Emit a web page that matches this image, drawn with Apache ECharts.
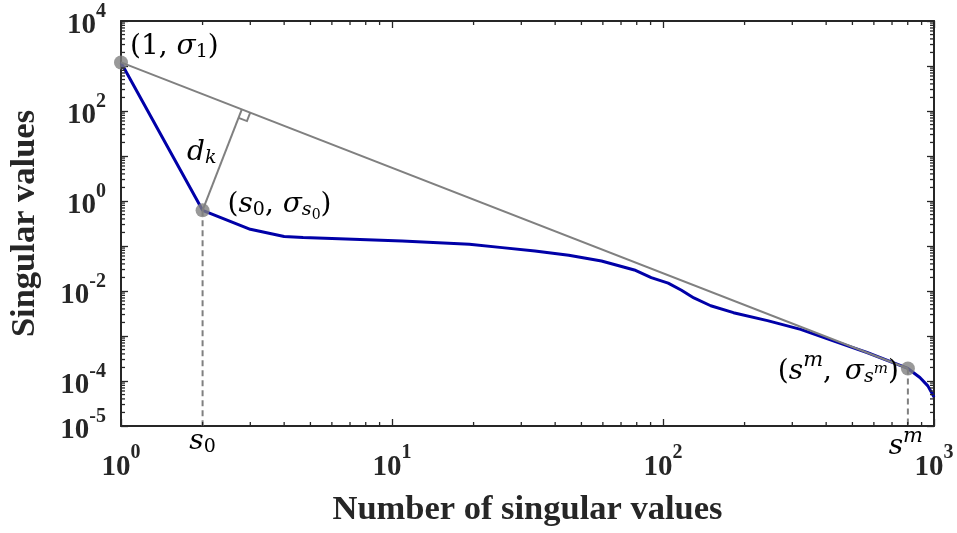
<!DOCTYPE html>
<html>
<head>
<meta charset="utf-8">
<script src="https://cdn.jsdelivr.net/npm/echarts@6/dist/echarts.min.js"></script>
<style>
  html, body { margin: 0; padding: 0; background: #ffffff; }
  #chart { width: 957px; height: 533px; }
</style>
</head>
<body>
<div id="chart"></div>
<script>
// Singular value spectrum (index k, sigma_k)
const svIndex = [1, 2, 3, 4, 4.7, 6, 10.9, 19.3, 25.5, 33.7, 44.9, 59.3, 78.4, 90.5, 104.5, 117, 130, 150, 182, 243, 322, 425, 566, 801, 887, 949, 1000];
const svValue = [1200, 0.62, 0.235, 0.162, 0.154, 0.146, 0.129, 0.109, 0.092, 0.0776, 0.062, 0.0464, 0.0293, 0.0199, 0.0150, 0.0104, 0.0070, 0.0047, 0.0033, 0.0022, 0.0014, 7.8e-4, 4.3e-4, 1.9e-4, 1.2e-4, 7.8e-5, 4.4e-5];

// Highlighted points: first value, knee s0 and the tail point s^m
const firstPoint = [svIndex[0], svValue[0]];
const kneePoint = [svIndex[1], svValue[1]];
const tailPoint = [svIndex[23], svValue[23]];

// Axis ranges and labelled exponents
const xRange = [1, 1000];
const yRange = [1e-5, 1e4];
const xLabelExps = [0, 1, 2, 3];
const yLabelExps = [-5, -4, -2, 0, 2, 4];

(function () {
const AXIS_FONT = '"Liberation Serif", "Times New Roman", serif';
const MATH_FONT = '"DejaVu Serif", "Liberation Serif", serif';
const INK = '#262626';
const GRAY = '#808080';
const BLUE = '#0000a8';

// Power-of-ten tick labels: base and raised exponent, both top-aligned; padding lowers the base
const powRich = {
  b: { fontFamily: AXIS_FONT, fontWeight: 'bold', fontSize: 29, color: INK, verticalAlign: 'top', padding: [10, 0, 0, 0] },
  e: { fontFamily: AXIS_FONT, fontWeight: 'bold', fontSize: 20, color: INK, verticalAlign: 'top', padding: [0, 0, 0, 0] }
};
function powLabel(shown) {
  return function (v) {
    const e = Math.round(Math.log10(v));
    if (shown.indexOf(e) < 0) return '';
    return '{b|10}{e|' + e + '}';
  };
}

// Math-style annotation text: tokens are top-aligned, top padding sets each token's height
function tok(size, pad, italic, padLeft) {
  return { fontFamily: MATH_FONT, color: GRAY, verticalAlign: 'top', fontSize: size,
           fontStyle: italic ? 'italic' : 'normal', padding: [pad, 0, 0, padLeft || 0] };
}
const mathRich = {
  t:    tok(28, 8, false),
  v:    tok(28, 8, true),
  vs:   tok(28, 8, true, 4),
  sub:  tok(19, 18, false),
  subv: tok(19, 18, true),
  sup:  tok(21, 1, true),
  ss:   tok(14, 26, false),
  sp:   tok(15, 12, true)
};
const MAIN_CENTER = 8 + 14;

const chart = echarts.init(document.getElementById('chart'), null, { renderer: 'canvas' });

const axisCommon = {
  type: 'log',
  logBase: 10,
  splitLine: { show: false },
  axisLine: { show: true, onZero: false, lineStyle: { color: INK, width: 2 } },
  axisTick: { show: true, inside: true, length: 7, lineStyle: { color: INK, width: 1.3 } }
};

const option = {
  animation: false,
  backgroundColor: '#ffffff',
  grid: { left: 117, right: 23, top: 21, bottom: 106, containLabel: false },
  xAxis: [
    Object.assign({}, axisCommon, {
      min: xRange[0], max: xRange[1], interval: 1, splitNumber: 3, position: 'bottom',
      axisLabel: { formatter: powLabel(xLabelExps), rich: powRich, margin: 17, fontSize: 29 },
      name: 'Number of singular values',
      nameLocation: 'middle',
      nameGap: 67,
      nameTextStyle: { fontFamily: AXIS_FONT, fontWeight: 'bold', fontSize: 34.5, color: INK }
    }),
    Object.assign({}, axisCommon, {
      min: xRange[0], max: xRange[1], interval: 1, splitNumber: 3, position: 'top',
      axisLabel: { show: false }
    })
  ],
  yAxis: [
    Object.assign({}, axisCommon, {
      min: yRange[0], max: yRange[1], interval: 1, splitNumber: 9, position: 'left',
      axisLabel: { formatter: powLabel(yLabelExps), rich: powRich, margin: 15, fontSize: 29 },
      name: 'Singular values',
      nameLocation: 'middle',
      nameGap: 78,
      nameTextStyle: { fontFamily: AXIS_FONT, fontWeight: 'bold', fontSize: 34.5, color: INK }
    }),
    Object.assign({}, axisCommon, {
      min: yRange[0], max: yRange[1], interval: 1, splitNumber: 9, position: 'right',
      axisLabel: { show: false }
    })
  ],
  series: [
    {
      name: 'spectrum',
      type: 'line',
      data: svIndex.map(function (k, i) { return [k, svValue[i]]; }),
      showSymbol: false,
      lineStyle: { color: BLUE, width: 3 },
      z: 2
    },
    {
      name: 'chord',
      type: 'line',
      data: [firstPoint, tailPoint],
      showSymbol: false,
      lineStyle: { color: GRAY, width: 2 },
      z: 3
    },
    {
      name: 'knee drop',
      type: 'line',
      data: [kneePoint, [kneePoint[0], yRange[0]]],
      showSymbol: false,
      lineStyle: { color: GRAY, width: 2, type: [6, 4] },
      z: 3
    },
    {
      name: 'tail drop',
      type: 'line',
      data: [tailPoint, [tailPoint[0], yRange[0]]],
      showSymbol: false,
      lineStyle: { color: GRAY, width: 2, type: [6, 4] },
      z: 3
    },
    {
      name: 'marked points',
      type: 'scatter',
      data: [firstPoint, kneePoint, tailPoint],
      symbol: 'circle',
      symbolSize: 14,
      itemStyle: { color: GRAY },
      z: 5
    }
  ]
};
chart.setOption(option);

// Annotations and minor ticks placed through the chart's own coordinate system
function toPx(x, y) { return chart.convertToPixel({ gridIndex: 0 }, [x, y]); }

const graphics = [];
const c0 = toPx(xRange[0], yRange[0]);
const c1 = toPx(xRange[1], yRange[1]);
const gLeft = c0[0], gBottom = c0[1], gRight = c1[0], gTop = c1[1];
const minorLen = 4;
const tickStyle = { stroke: INK, lineWidth: 1.3 };

// minor ticks on x (bottom and top)
for (let d = 0; d < 3; d++) {
  for (let k = 2; k <= 9; k++) {
    const xp = toPx(k * Math.pow(10, d), yRange[0])[0];
    graphics.push({ type: 'line', silent: true, z: 10, shape: { x1: xp, y1: gBottom, x2: xp, y2: gBottom - minorLen }, style: tickStyle });
    graphics.push({ type: 'line', silent: true, z: 10, shape: { x1: xp, y1: gTop, x2: xp, y2: gTop + minorLen }, style: tickStyle });
  }
}
// minor ticks on y (left and right)
for (let e = -5; e < 4; e++) {
  for (let k = 2; k <= 9; k++) {
    const yp = toPx(xRange[0], k * Math.pow(10, e))[1];
    graphics.push({ type: 'line', silent: true, z: 10, shape: { x1: gLeft, y1: yp, x2: gLeft + minorLen, y2: yp }, style: tickStyle });
    graphics.push({ type: 'line', silent: true, z: 10, shape: { x1: gRight, y1: yp, x2: gRight - minorLen, y2: yp }, style: tickStyle });
  }
}

// perpendicular distance d_k from the knee to the chord
const A = toPx(firstPoint[0], firstPoint[1]);
const B = toPx(tailPoint[0], tailPoint[1]);
const P = toPx(kneePoint[0], kneePoint[1]);
const len = Math.hypot(B[0] - A[0], B[1] - A[1]);
const u = [(B[0] - A[0]) / len, (B[1] - A[1]) / len];
const tProj = (P[0] - A[0]) * u[0] + (P[1] - A[1]) * u[1];
const F = [A[0] + u[0] * tProj, A[1] + u[1] * tProj];
const dLen = Math.hypot(P[0] - F[0], P[1] - F[1]);
const m = [(P[0] - F[0]) / dLen, (P[1] - F[1]) / dLen];
const sq = 9;

graphics.push({ type: 'line', silent: true, z: 4, shape: { x1: P[0], y1: P[1], x2: F[0], y2: F[1] }, style: { stroke: GRAY, lineWidth: 2 } });
graphics.push({
  type: 'polyline', silent: true, z: 4,
  shape: { points: [
    [F[0] + u[0] * sq, F[1] + u[1] * sq],
    [F[0] + u[0] * sq + m[0] * sq, F[1] + u[1] * sq + m[1] * sq],
    [F[0] + m[0] * sq, F[1] + m[1] * sq]
  ] },
  style: { stroke: GRAY, lineWidth: 2, fill: null }
});

function mathText(text, x, centerY, align) {
  return {
    type: 'text', silent: true, z: 20,
    x: x, y: centerY - MAIN_CENTER,
    style: { text: text, rich: mathRich, align: align, verticalAlign: 'top' }
  };
}

graphics.push(mathText('{t|(1, }{v|σ}{sub|1}{t|)}', A[0] + 9, A[1] - 16, 'left'));
graphics.push(mathText('{t|(}{v|s}{sub|0}{t|, }{v|σ}{subv|s}{ss|0}{t|)}', P[0] + 25, P[1] - 6, 'left'));
graphics.push(mathText('{t|(}{v|s}{sup|m}{t|, }{vs|σ}{subv|s}{sp|m}{t|)}', B[0] - 9, B[1] + 3, 'right'));
graphics.push(mathText('{v|d}{subv|k}', (P[0] + F[0]) / 2 - u[0] * 22, (P[1] + F[1]) / 2 - u[1] * 22 + 1, 'center'));
graphics.push(mathText('{v|s}{sub|0}', P[0], gBottom + 16, 'center'));
graphics.push(mathText('{v|s}{sup|m}', B[0] - 2, gBottom + 21, 'center'));

chart.setOption({ graphic: graphics });
})();
</script>
</body>
</html>
